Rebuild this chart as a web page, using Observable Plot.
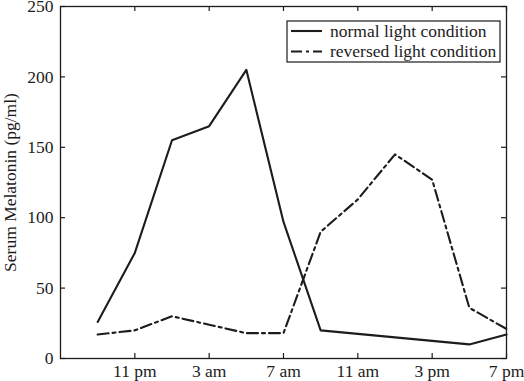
<!DOCTYPE html>
<html>
<head>
<meta charset="utf-8">
<script src="https://cdn.jsdelivr.net/npm/d3@7"></script>
<script src="https://cdn.jsdelivr.net/npm/@observablehq/plot@0.6"></script>
<style>
  body { margin: 0; background: #fff; }
  #chart { position: relative; width: 524px; height: 381px; }
  #chart svg text { font-family: 'Liberation Serif', 'Times New Roman', serif; font-size: 17.5px; }
</style>
</head>
<body>
<div id="chart"></div>
<script>
// hours after 7 pm
const hours = [2, 4, 6, 8, 10, 12, 14, 22, 24];
const normalValues = [26, 75, 155, 165, 205, 97, 20, 10, 17];
const reversedHours = [2, 4, 6, 8, 10, 12, 14, 16, 18, 20, 22, 24];
const reversedValues = [17, 20, 30, 24, 18, 18, 90, 113, 145, 127, 36, 21];
const xTicks = [4, 8, 12, 16, 20, 24];
const xTickLabels = ["11 pm", "3 am", "7 am", "11 am", "3 pm", "7 pm"];
const yTicks = [0, 50, 100, 150, 200, 250];
const seriesNames = ["normal light condition", "reversed light condition"];
const yLabel = "Serum Melatonin (pg/ml)";

const normal = hours.map((h, i) => ({h, v: normalValues[i]}));
const reversed = reversedHours.map((h, i) => ({h, v: reversedValues[i]}));

const W = 524, H = 381;
const mL = 60, mR = 18, mT = 6, mB = 23;
const plotH = H - mT - mB, plotW = W - mL - mR;
const FONT = "'Liberation Serif', 'Times New Roman', serif";
const ink = "#1c1c1c";
const dash = "11,4,3,4";

const chart = Plot.plot({
  width: W, height: H,
  marginLeft: mL, marginRight: mR, marginTop: mT, marginBottom: mB,
  style: {fontFamily: FONT, fontSize: "17.5px", color: ink, background: "#fff", overflow: "visible"},
  x: {domain: [0, 24]},
  y: {domain: [0, 250]},
  marks: [
    Plot.axisX(xTicks, {tickSize: 0, tickPadding: 6, tickFormat: (d, i) => xTickLabels[i], label: null}),
    Plot.axisY(yTicks, {tickSize: 0, tickPadding: 7, label: null}),
    Plot.tickX(xTicks, {x: d => d, insetTop: plotH - 5, stroke: ink, strokeWidth: 1.2}),
    Plot.tickX(xTicks, {x: d => d, insetBottom: plotH - 5, stroke: ink, strokeWidth: 1.2}),
    Plot.tickY(yTicks, {y: d => d, insetRight: plotW - 5, stroke: ink, strokeWidth: 1.2}),
    Plot.tickY(yTicks, {y: d => d, insetLeft: plotW - 5, stroke: ink, strokeWidth: 1.2}),
    Plot.frame({stroke: ink, strokeWidth: 1.3}),
    Plot.line(normal, {x: "h", y: "v", stroke: ink, strokeWidth: 2.1}),
    Plot.line(reversed, {x: "h", y: "v", stroke: ink, strokeWidth: 2.1, strokeDasharray: dash}),
    Plot.text([yLabel], {frameAnchor: "left", rotate: -90, dx: -50, textAnchor: "middle", fill: ink})
  ]
});
document.getElementById("chart").appendChild(chart);

// legend box inside the plot (top right)
const svg = d3.select(chart);
const lg = svg.append("g").attr("fill", ink).attr("text-anchor", "start");
const bx = 287, by = 21, bw = 213, bh = 41;
lg.append("rect").attr("x", bx).attr("y", by).attr("width", bw).attr("height", bh)
  .attr("fill", "#fff").attr("stroke", ink).attr("stroke-width", 1.2);
seriesNames.forEach((name, i) => {
  const yy = by + 10 + i * 20.5;
  lg.append("line").attr("x1", bx + 4).attr("x2", bx + 35).attr("y1", yy).attr("y2", yy)
    .attr("stroke", ink).attr("stroke-width", 2.1)
    .attr("stroke-dasharray", i === 0 ? null : dash);
  lg.append("text").attr("x", bx + 43).attr("y", yy).attr("dy", "0.32em")
    .attr("text-anchor", "start").text(name);
});
</script>
</body>
</html>
